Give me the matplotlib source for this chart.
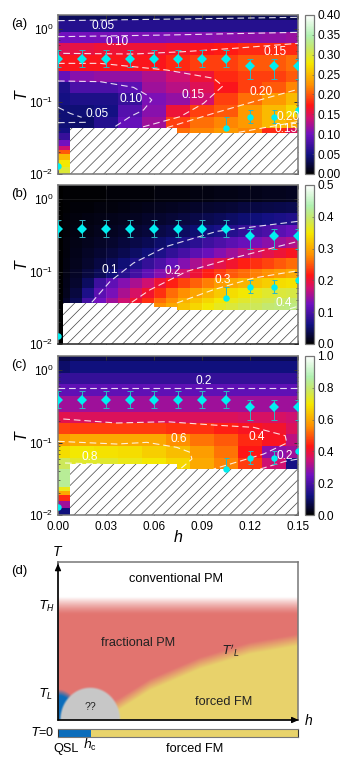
import numpy as np
import matplotlib
matplotlib.use('Agg')
import matplotlib.pyplot as plt
from matplotlib.colors import LinearSegmentedColormap
from matplotlib.ticker import LogLocator, LogFormatterMathtext, NullFormatter

plt.rcParams['font.family'] = ['Liberation Sans', 'DejaVu Sans']
plt.rcParams['mathtext.default'] = 'regular'
plt.rcParams['hatch.linewidth'] = 0.5
plt.rcParams['hatch.color'] = '#444444'

W, H = 353, 769

# heat map grid
h_edges = [0, .0075, .0225, .0375, .0525, .0675, .0825, .0975, .1125, .1275, .1425, .15]
T_edges = [1.56, 1.33, .91, .64, .44, .26, .186, .131, .0895, .0611, .0431, .0368]
T_tail = [.0368, .0294, .0243, .0214, .0189, .0156, .0125, .01]

# panel (a)
a_vals = [
    [.035, .035, .035, .035, .035, .035, .035, .034, .033, .032, .032],
    [.060, .060, .060, .060, .060, .060, .060, .060, .060, .060, .060],
    [.100, .103, .104, .105, .106, .107, .108, .110, .112, .114, .116],
    [.150, .155, .160, .160, .160, .165, .170, .175, .180, .180, .180],
    [.170, .170, .170, .170, .170, .180, .190, .190, .200, .200, .210],
    [.095, .110, .115, .115, .125, .140, .160, .180, .190, .190, .200],
    [.055, .080, .080, .090, .120, .130, .150, .170, .190, .200, .220],
    [.050, .055, .055, .070, .105, .115, .140, .190, .210, .230, .250],
    [.045, .045, .050, .085, .110, .160, .190, .200, .230, .250, .270],
    [.045, .040, .060, .095, .120, .190, .210, .220, .230, .250, .240],
    [.050, .040, .060, .095, .120, .210, .220, .230, .220, .180, .150],
]
a_tail = [.07, .10, .14, .20, .25, .28, .30]

# panel (c)
c_vals = [
    [.07, .08, .08, .08, .08, .08, .08, .08, .08, .08, .08],
    [.10, .12, .12, .12, .12, .12, .12, .12, .12, .12, .12],
    [.17, .17, .17, .17, .17, .17, .17, .17, .17, .17, .17],
    [.23, .23, .23, .23, .23, .23, .23, .23, .23, .23, .23],
    [.30, .30, .30, .30, .30, .30, .30, .30, .30, .30, .30],
    [.38, .37, .37, .37, .37, .37, .37, .37, .36, .36, .35],
    [.48, .47, .47, .47, .47, .46, .46, .44, .42, .41, .37],
    [.58, .60, .60, .60, .60, .56, .53, .50, .45, .42, .33],
    [.68, .70, .69, .68, .66, .63, .58, .53, .43, .28, .30],
    [.78, .74, .74, .72, .70, .67, .60, .55, .47, .35, .13],
    [.84, .74, .74, .72, .70, .60, .47, .40, .33, .15, .08],
]
c_tail = [.84, .84, .72, .60, .45, .30, .12]

# panel (b) has a finer grid
b_h_edges = [0, .003, .0075, .015, .0225, .03, .0375, .045, .0525, .06, .0675, .075,
             .0825, .09, .0975, .105, .1125, .12, .1275, .135, .1425, .15]
b_T_edges = [1.56, .91, .64, .44, .30, .211, .153, .108, .0813, .0592, .0431, .0368, .01]
b_vals = [
    [0, .002, .002, .003, .003, .004, .004, .005, .005, .006, .006, .007, .008, .009, .010, .011, .012, .013, .014, .015, .016],
    [0, .003, .004, .005, .006, .007, .008, .010, .012, .014, .016, .018, .020, .022, .024, .027, .030, .032, .034, .036, .038],
    [0, .004, .006, .008, .010, .012, .014, .017, .020, .023, .027, .030, .034, .038, .042, .048, .053, .058, .063, .068, .072],
    [0, .005, .008, .011, .014, .017, .020, .024, .028, .034, .040, .046, .053, .060, .068, .076, .084, .092, .100, .110, .120],
    [0, .006, .010, .014, .018, .022, .028, .034, .041, .050, .060, .070, .080, .090, .100, .110, .120, .130, .140, .150, .160],
    [0, .007, .012, .018, .024, .030, .038, .047, .058, .070, .083, .097, .110, .120, .135, .150, .163, .178, .190, .200, .210],
    [0, .008, .015, .023, .032, .042, .055, .070, .085, .100, .118, .135, .155, .175, .190, .205, .220, .230, .240, .250, .260],
    [0, .010, .018, .030, .042, .058, .075, .095, .115, .135, .155, .175, .200, .220, .235, .250, .260, .270, .280, .290, .300],
    [0, .012, .022, .045, .090, .115, .135, .155, .175, .200, .220, .240, .255, .270, .290, .300, .310, .320, .330, .340, .345],
    [0, .015, .030, .070, .110, .130, .155, .180, .205, .230, .260, .280, .295, .310, .325, .340, .350, .360, .370, .375, .380],
    [0, .020, .040, .095, .125, .150, .175, .205, .230, .260, .280, .305, .320, .335, .350, .360, .370, .380, .385, .395, .400],
    [0, .030, .050, .110, .140, .170, .190, .220, .250, .280, .300, .320, .335, .350, .365, .375, .385, .390, .400, .405, .410],
]

# hatched no-data region: start of each step and its T
a_hatch_h = [.0075, .0746, .15]
a_hatch_T = [.0431, .0368, .0368]
b_hatch_h = [.003, .0597, .0743, .15]
b_hatch_T = [.0368, .0327, .0295, .0295]
c_hatch_h = [.0075, .0746, .15]
c_hatch_T = [.0505, .0431, .0431]

# T_H diamonds and T_L circles
dia_h = [0, .015, .03, .045, .06, .075, .09, .105, .12, .135, .15]
dia_T = [.385, .385, .385, .385, .385, .385, .385, .385, .309, .309, .309]
dia_lo = [.302, .302, .302, .302, .302, .302, .302, .302, .204, .204, .204]
dia_hi = [.513, .513, .513, .513, .513, .513, .513, .513, .385, .385, .385]
cir_h = [.105, .12, .135]
cir_T = [.043, .061, .061]
cir_lo = [.043, .050, .050]
cir_hi = [.0618, .0764, .0764]
cir_edge_h = [0, .15]
cir_edge_T = [.0129, .0764]

# contour lines, as (h, log10 T)
a_lines = [
    ([0, .15], [.115, .161]),
    ([0, .068, .15], [-.106, -.083, -.046]),
    ([.0033, .0472, .0784, .1097, .15], [-.336, -.345, -.313, -.267, -.198]),
    ([0, .0263, .068, .0972, .103, .091, .0764, .0513], [-.474, -.474, -.566, -.680, -.786, -1.025, -1.209, -1.361]),
    ([0, .0263, .0472, .0555, .0586, .0534, .0451, .0346], [-.717, -.726, -.805, -.910, -.979, -1.117, -1.209, -1.361]),
    ([0, .0075, .0148], [-1.08, -1.163, -1.218]),
    ([0, .0184], [-1.292, -1.287]),
    ([.068, .0972, .1223, .15], [-1.361, -1.163, -1.002, -.832]),
    ([.1129, .15], [-1.425, -1.278]),
]
b_lines = [
    ([.0211, .0326, .0472, .068, .0993, .15], [-1.425, -1.136, -.883, -.653, -.446, -.308]),
    ([.0461, .0576, .0805, .1097, .15], [-1.425, -1.251, -.998, -.814, -.584]),
    ([.0743, .0972, .1223, .15], [-1.434, -1.251, -1.09, -.989]),
    ([.145, .15], [-1.513, -1.48]),
]
c_lines = [
    ([0, .15], [-.244, -.244]),
    ([.0033, .0367, .068, .0972, .1223, .142, .143, .1285, .0972], [-.676, -.731, -.713, -.759, -.791, -.906, -1.007, -1.159, -1.366]),
    ([0, .0367, .0555, .0743, .0826, .0837, .0764], [-.984, -1.021, -.998, -1.067, -1.136, -1.228, -1.366]),
    ([.0044, .0263], [-1.283, -1.297]),
    ([.1264, .142, .15], [-1.366, -1.26, -1.228]),
]

# contour labels: text, x px, y px
a_labels = [('0.05', 103, 26), ('0.10', 117, 42), ('0.15', 275, 52), ('0.10', 131, 99), ('0.15', 193, 95),
            ('0.20', 261, 92), ('0.05', 97, 114), ('0.20', 288, 117), ('0.15', 286, 129)]
b_labels = [('0.1', 110, 270), ('0.2', 173, 271), ('0.3', 223, 280), ('0.4', 284, 303)]
c_labels = [('0.2', 204, 381), ('0.6', 179, 439), ('0.4', 257, 437), ('0.8', 90, 457), ('0.2', 285, 456)]

a_cticks = [0, .05, .10, .15, .20, .25, .30, .35, .40]
b_cticks = [0, .1, .2, .3, .4, .5]
c_cticks = [0, .2, .4, .6, .8, 1.0]
h_ticks = [0, .03, .06, .09, .12, .15]

# schematic boundaries of panel (d), axes fraction
d_curve_x = [0, .252, .384, .592, .801, 1.0]
d_curve_y = [-.05, .097, .223, .359, .454, .506]
bar_edges = [0, .136, 1]
bar_colors = ['#0b6dbb', '#e8d36b']

cmap = LinearSegmentedColormap.from_list('hot2', [(0, '#000000'), (.12, '#101080'), (.25, '#7010c0'),
                                                  (.35, '#d01070'), (.43, '#ff1515'), (.56, '#ff9000'),
                                                  (.7, '#f4e800'), (.8, '#c4e870'), (.87, '#b0f0b0'),
                                                  (1, '#ffffff')])
grey = '#777777'
cyan = '#00eef0'


def px_axes(fig, x0, y0, x1, y1):
    return fig.add_axes([x0 / W, 1 - y1 / H, (x1 - x0) / W, (y1 - y0) / H])


def put(fig, x, y, s, **kw):
    kw.setdefault('ha', 'center')
    kw.setdefault('va', 'center')
    fig.text(x / W, 1 - y / H, s, **kw)


def panel(fig, top, vals, tail, vmax, cticks, hatch_h, hatch_T, lines, labels, edges=None, Tedges=None, fmt='%.1f'):
    bot = top + 159
    ax = px_axes(fig, 58, top, 298, bot)
    m = ax.pcolormesh(edges or h_edges, Tedges or T_edges, np.array(vals), cmap=cmap, vmin=0, vmax=vmax)
    if tail is not None:
        ax.pcolormesh(h_edges[:2], T_tail, np.array(tail).reshape(-1, 1), cmap=cmap, vmin=0, vmax=vmax)
    ax.set_yscale('log')
    ax.set_xlim(0, .15)
    ax.set_ylim(.01, 1.56)
    ax.fill_between(hatch_h, .01, hatch_T, step='post', facecolor='white', edgecolor='#444444', hatch='///', lw=0, zorder=2)
    for xs, ys in lines:
        ax.plot(xs, 10 ** np.array(ys), color='white', lw=.8, dashes=(6, 3.5), alpha=.85, zorder=3)
    # caps vanish if mew=0 is passed to errorbar, so markers are drawn apart
    ax.errorbar(dia_h, dia_T, yerr=[np.array(dia_T) - dia_lo, np.array(dia_hi) - dia_T], fmt='none',
                ecolor='#2cb8c4', elinewidth=.7, capsize=2, capthick=.7, zorder=4)
    ax.plot(dia_h, dia_T, 'D', color=cyan, ms=5.4, mew=0, zorder=5)
    ax.errorbar(cir_h, cir_T, yerr=[np.array(cir_T) - cir_lo, np.array(cir_hi) - cir_T], fmt='none',
                ecolor='#2cb8c4', elinewidth=.7, capsize=1.8, capthick=.7, zorder=4)
    ax.plot(cir_h, cir_T, 'o', color=cyan, ms=4.6, mew=0, zorder=5)
    ax.plot(cir_edge_h, cir_edge_T, 'o', color=cyan, ms=4.6, mew=0, zorder=5)
    ax.set_xticks(h_ticks)
    ax.yaxis.set_major_locator(LogLocator(base=10, numticks=5))
    ax.yaxis.set_major_formatter(LogFormatterMathtext())
    ax.yaxis.set_minor_locator(LogLocator(base=10, subs=range(2, 10), numticks=10))
    ax.yaxis.set_minor_formatter(NullFormatter())
    ax.tick_params(which='major', direction='in', top=True, right=True, length=3, width=.7, labelsize=8.5, pad=3.5, color='#333333')
    ax.tick_params(which='minor', direction='in', right=True, length=1.6, width=.5, color='#333333')
    ax.tick_params(axis='x', pad=4)
    for s in ax.spines.values():
        s.set_color(grey)
        s.set_linewidth(1.1)
    for s, x, y in labels:
        put(fig, x, y, s, color='white', fontsize=8.6, zorder=6)
    cax = px_axes(fig, 305, top, 314, bot)
    cb = fig.colorbar(m, cax=cax)
    cb.set_ticks(cticks)
    cb.set_ticklabels([fmt % t for t in cticks])
    cb.ax.tick_params(labelsize=8.6, length=1.5, width=.4, direction='in', pad=2.5, color='#555555')
    cb.outline.set_edgecolor(grey)
    cb.outline.set_linewidth(.9)
    return ax


fig = plt.figure(figsize=(W / 100, H / 100), dpi=100)

ax_a = panel(fig, 15, a_vals, a_tail, .4, a_cticks, a_hatch_h, a_hatch_T, a_lines, a_labels, fmt='%.2f')
ax_b = panel(fig, 185, b_vals, None, .5, b_cticks, b_hatch_h, b_hatch_T, b_lines, b_labels,
             edges=b_h_edges, Tedges=b_T_edges)
ax_c = panel(fig, 356, c_vals, c_tail, 1.0, c_cticks, c_hatch_h, c_hatch_T, c_lines, c_labels)

ax_b.grid(True, which='major', color='white', alpha=.12, lw=.5)
ax_b.spines['bottom'].set_color('#222222')
ax_a.tick_params(labelbottom=False)
ax_b.tick_params(labelbottom=False)
ax_c.set_xticklabels(['%.2f' % t for t in h_ticks])

for y, lab, ty in [(24, '(a)', 94), (194, '(b)', 264), (365, '(c)', 435)]:
    put(fig, 19, y, lab, fontsize=9.5)
    put(fig, 21, ty, 'T', fontsize=11.5, style='italic', rotation=90)
put(fig, 178, 537, 'h', fontsize=11.5, style='italic')

# panel (d)
ax_d = px_axes(fig, 58, 562, 298, 720)
xx, yy = np.meshgrid(np.linspace(0, 1, 480), np.linspace(0, 1, 316))


def blend(img, col, w):
    return img * (1 - w[..., None]) + np.array(col) * w[..., None]


img = np.ones(xx.shape + (3,)) * np.array([226, 117, 112]) / 255
yb = np.interp(xx, d_curve_x, d_curve_y)
img = blend(img, np.array([232, 211, 107]) / 255, np.clip((yb - yy) / .075 + .5, 0, 1))
img = blend(img, np.array([1, 1, 1.]), np.clip((yy - .67) / .11, 0, 1) ** 1.3)
r_blue = np.sqrt((xx / .09) ** 2 + (yy / .185) ** 2)
img = blend(img, np.array([11, 109, 187]) / 255, np.clip((1.05 - r_blue) / .22, 0, 1))
r_grey = np.sqrt(((xx - .1335) / .125) ** 2 + (yy / .204) ** 2)
img = blend(img, np.array([200, 200, 200]) / 255, np.clip((1.03 - r_grey) / .07, 0, 1))
ax_d.imshow(img, extent=[0, 1, 0, 1], origin='lower', aspect='auto', interpolation='bilinear')
ax_d.set_xticks([])
ax_d.set_yticks([])
for k, s in ax_d.spines.items():
    s.set_color(grey if k in ('top', 'right') else '#333333')
    s.set_linewidth(1.1)
ax_d.annotate('', xy=(0, .99), xytext=(0, 0), xycoords='axes fraction', annotation_clip=False,
              arrowprops=dict(arrowstyle='-|>,head_width=.18,head_length=.4', color='black', lw=.9, shrinkA=0, shrinkB=0))
ax_d.annotate('', xy=(1.003, 0), xytext=(0, 0), xycoords='axes fraction', annotation_clip=False,
              arrowprops=dict(arrowstyle='-|>,head_width=.18,head_length=.4', color='black', lw=.9, shrinkA=0, shrinkB=0))

ax_bar = px_axes(fig, 58, 729, 298, 737)
for i in range(len(bar_colors)):
    ax_bar.barh(0, bar_edges[i + 1] - bar_edges[i], left=bar_edges[i], height=1, color=bar_colors[i])
ax_bar.set_xlim(0, 1)
ax_bar.set_ylim(-.5, .5)
ax_bar.set_xticks([])
ax_bar.set_yticks([])
for k, s in ax_bar.spines.items():
    s.set_color('#333333' if k in ('left', 'right') else grey)
    s.set_linewidth(.8)

put(fig, 19, 571, '(d)', fontsize=9.5)
put(fig, 57, 552, 'T', fontsize=10, style='italic')
put(fig, 309, 721, 'h', fontsize=10, style='italic')
put(fig, 176, 579, 'conventional PM', fontsize=9.2)
put(fig, 138, 643, 'fractional PM', fontsize=9.2, color='#222222')
put(fig, 224, 702, 'forced FM', fontsize=9.2, color='#222222')
put(fig, 90, 707, '??', fontsize=7.5, color='#222222')
put(fig, 231, 651, "$\\mathit{T'}_{\\mathit{L}}$", fontsize=9, color='#222222')
put(fig, 47, 606, '$\\mathit{T}_{\\mathit{H}}$', fontsize=9)
put(fig, 46, 694, '$\\mathit{T}_{\\mathit{L}}$', fontsize=9)
put(fig, 43, 733, '$\\mathit{T}$=0', fontsize=9)
put(fig, 66, 749, 'QSL', fontsize=9.2)
put(fig, 90, 745, '$\\mathit{h}_{c}$', fontsize=9)
put(fig, 195, 749, 'forced FM', fontsize=9.2)

fig.savefig('out.png', dpi=100)
